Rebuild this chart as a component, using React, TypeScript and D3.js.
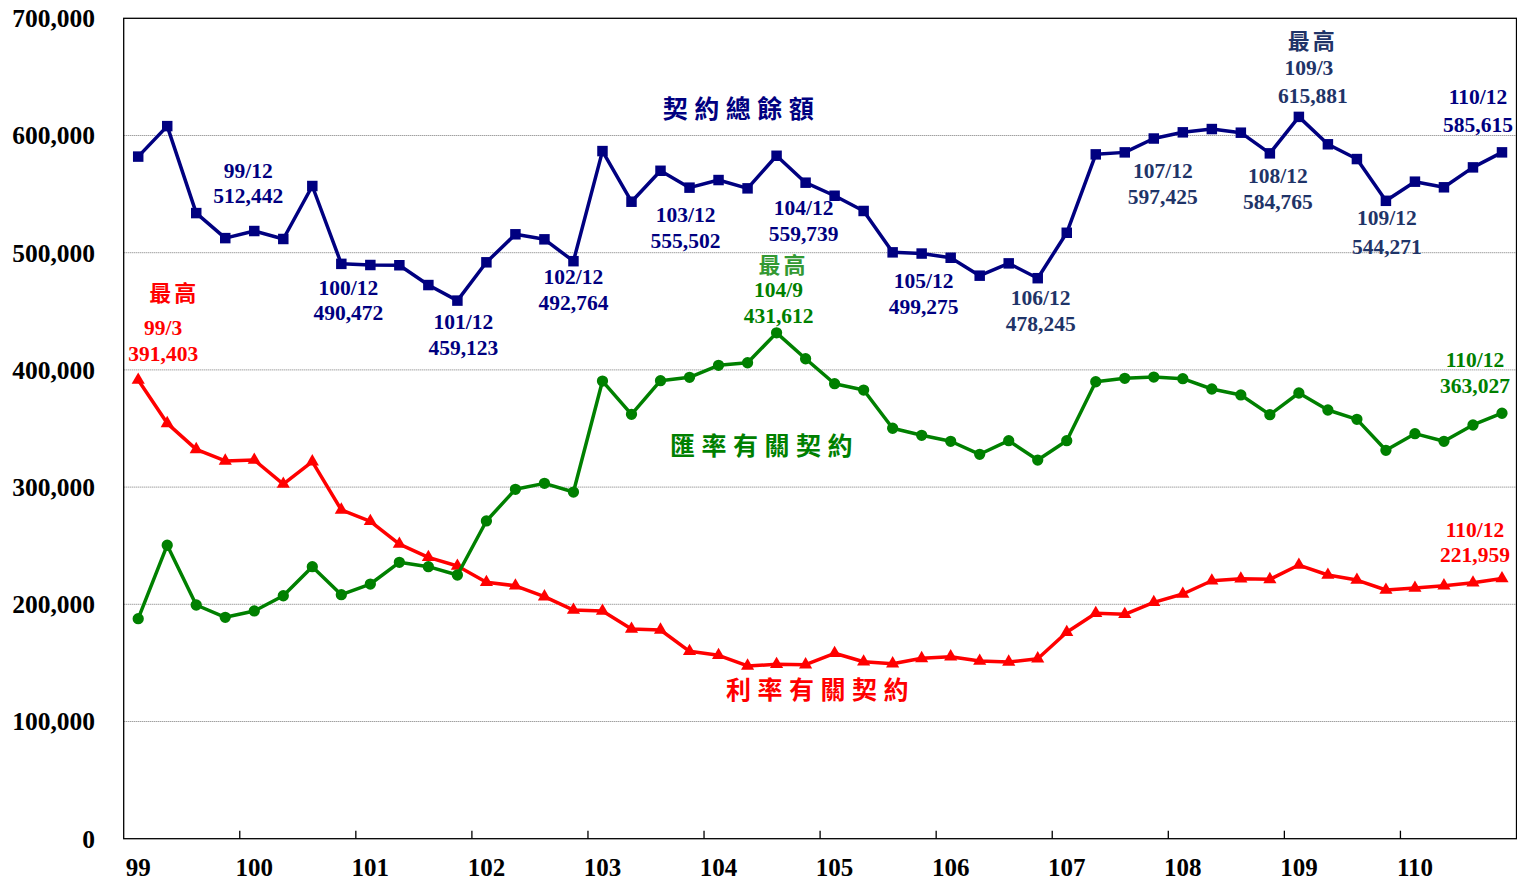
import React, { useEffect, useRef } from "react";
import * as d3 from "d3";

const years = ["99", "100", "101", "102", "103", "104", "105", "106", "107", "108", "109", "110"];
const months = ["3", "6", "9", "12"];
const quarters = years.flatMap((y) => months.map((m) => `${y}/${m}`));

// 契約總餘額
const totalValues = [
  582000, 608000, 533800, 512442, 518500, 511700, 556900, 490472,
  489500, 489300, 472400, 459123, 491800, 515700, 511400, 492764,
  586700, 543500, 569900, 555502, 562000, 554900, 582700, 559739,
  548600, 535600, 500300, 499275, 495700, 480400, 490900, 478245,
  517000, 583900, 585600, 597425, 602700, 605500, 602400, 584765,
  615881, 592500, 579900, 544271, 560600, 555800, 572800, 585615,
];

// 匯率有關契約
const fxValues = [
  187700, 250400, 199400, 188900, 194300, 207300, 232100, 208200,
  217300, 235800, 232100, 225000, 271100, 298100, 303200, 295800,
  390500, 362100, 390800, 393700, 403900, 406100, 431612, 409500,
  388200, 382800, 350200, 344200, 339100, 328000, 339600, 323100,
  339600, 389900, 392800, 393900, 392500, 383700, 378600, 361800,
  380300, 365800, 357800, 331400, 345600, 339100, 353000, 363027,
];

// 利率有關契約
const rateValues = [
  391403, 354400, 332200, 322300, 323100, 302600, 321700, 280500,
  270800, 251400, 240100, 232700, 218800, 215800, 206500, 195100,
  194300, 178900, 178100, 159900, 156500, 147400, 148800, 148500,
  158200, 151000, 149300, 153900, 155300, 151600, 150800, 153600,
  176100, 192300, 191500, 201700, 208800, 220100, 221800, 221300,
  233500, 225000, 220700, 212200, 213900, 215900, 218400, 221959,
];

const yTicks = [0, 100000, 200000, 300000, 400000, 500000, 600000, 700000];

const NAVY = "#000080";
const NAVY2 = "#1f3468";
const GREEN = "#008000";
const GREEN2 = "#339933";
const RED = "#ff0000";

// label callouts: [series, category, color, [text, dx, dy][]]; "@" = category, "#" = value
const callouts = [
  ["rate", "99/3", RED, [["最高", 36, -87], ["@", 25, -53], ["#", 25, -27]]],
  ["total", "99/12", NAVY, [["@", 23, -68], ["#", 23, -43]]],
  ["total", "100/12", NAVY, [["@", 7, 24], ["#", 7, 49]]],
  ["total", "101/12", NAVY, [["@", 6, 21], ["#", 6, 47]]],
  ["total", "102/12", NAVY, [["@", 0, 15], ["#", 0, 41]]],
  ["total", "103/12", NAVY, [["@", -4, 27], ["#", -4, 53]]],
  ["total", "104/12", NAVY, [["@", -2, 25], ["#", -2, 51]]],
  ["fx", "104/9", GREEN, [["最高", 7, -68], ["@", 2, -43], ["#", 2, -17]]],
  ["total", "105/12", NAVY, [["@", 2, 27], ["#", 2, 53]]],
  ["total", "106/12", NAVY2, [["@", 3, 19], ["#", 3, 45]]],
  ["total", "107/12", NAVY2, [["@", 9, 32], ["#", 9, 58]]],
  ["total", "108/12", NAVY2, [["@", 8, 22], ["#", 8, 48]]],
  ["total", "109/3", NAVY2, [["最高", 14, -76], ["@", 10, -49], ["#", 14, -21]]],
  ["total", "109/12", NAVY2, [["@", 1, 17], ["#", 1, 46]]],
  ["total", "110/12", NAVY, [["@", -24, -56], ["#", -24, -28]]],
  ["fx", "110/12", GREEN, [["@", -27, -54], ["#", -27, -28]]],
  ["rate", "110/12", RED, [["@", -27, -49], ["#", -27, -24]]],
];

// series titles: [text, category, value, color, dx]
const titles = [
  ["契約總餘額", "104/3", 622000, NAVY, 23],
  ["匯率有關契約", "104/6", 335000, GREEN, 17],
  ["利率有關契約", "105/3", 127000, RED, -14],
];

export default function App() {
  const svgRef = useRef(null);

  useEffect(() => {
    const width = 1517;
    const height = 882;
    const left = 123.7;
    const right = 1516.5;
    const top = 18.3;
    const bottom = 838.7;

    const svg = d3.select(svgRef.current);
    svg.selectAll("*").remove();
    svg.attr("width", width).attr("height", height);

    const x = d3.scaleBand().domain(quarters).range([left, right]).padding(0);
    const bw = x.bandwidth();
    const cx = (q) => x(q) + bw / 2;
    const y = d3.scaleLinear().domain([0, 700000]).range([bottom, top]);

    const num = "'Liberation Serif', 'Times New Roman', serif";
    const cjk = "'Noto Sans CJK TC', 'Noto Sans CJK SC', sans-serif";

    // grid lines
    svg
      .append("g")
      .selectAll("line")
      .data(yTicks.slice(1, -1))
      .join("line")
      .attr("x1", left)
      .attr("x2", right)
      .attr("y1", (d) => y(d))
      .attr("y2", (d) => y(d))
      .attr("stroke", "#777")
      .attr("stroke-width", 1)
      .attr("stroke-dasharray", "1,1");

    // plot frame
    svg
      .append("rect")
      .attr("x", left)
      .attr("y", top)
      .attr("width", right - left)
      .attr("height", bottom - top)
      .attr("fill", "none")
      .attr("stroke", "#000")
      .attr("stroke-width", 1.3);

    // y labels
    svg
      .append("g")
      .selectAll("text")
      .data(yTicks)
      .join("text")
      .attr("x", 95)
      .attr("y", (d) => y(d))
      .attr("dy", "0.35em")
      .attr("text-anchor", "end")
      .style("font", `bold 25.5px ${num}`)
      .attr("fill", "#000")
      .text((d) => d3.format(",")(d));

    // x ticks at year boundaries
    svg
      .append("g")
      .selectAll("line")
      .data(years.slice(1))
      .join("line")
      .attr("x1", (d) => x(`${d}/3`))
      .attr("x2", (d) => x(`${d}/3`))
      .attr("y1", bottom)
      .attr("y2", bottom - 8)
      .attr("stroke", "#000")
      .attr("stroke-width", 1.3);

    svg
      .append("g")
      .selectAll("text")
      .data(years)
      .join("text")
      .attr("x", (d) => cx(`${d}/3`))
      .attr("y", 867)
      .attr("dy", "0.35em")
      .attr("text-anchor", "middle")
      .style("font", `bold 25px ${num}`)
      .attr("fill", "#000")
      .text((d) => d);

    const series = {
      total: { values: totalValues, color: NAVY, shape: d3.symbolSquare, size: 110 },
      fx: { values: fxValues, color: GREEN, shape: d3.symbolCircle, size: 100 },
      rate: { values: rateValues, color: RED, shape: d3.symbolTriangle, size: 75 },
    };

    const line = d3
      .line()
      .x((d, i) => cx(quarters[i]))
      .y((d) => y(d));

    ["rate", "fx", "total"].forEach((key) => {
      const s = series[key];
      svg
        .append("path")
        .attr("d", line(s.values))
        .attr("fill", "none")
        .attr("stroke", s.color)
        .attr("stroke-width", 3.5)
        .attr("stroke-linejoin", "round");
      svg
        .append("g")
        .selectAll("path")
        .data(s.values)
        .join("path")
        .attr("d", d3.symbol().type(s.shape).size(s.size))
        .attr("transform", (d, i) => `translate(${cx(quarters[i])},${y(d)})`)
        .attr("fill", s.color);
    });

    // series titles
    titles.forEach(([text, cat, val, color, dx]) => {
      svg
        .append("text")
        .attr("x", cx(cat) + dx)
        .attr("y", y(val))
        .attr("dy", "0.35em")
        .attr("text-anchor", "middle")
        .attr("letter-spacing", 6.5)
        .style("font", `bold 25px ${cjk}`)
        .attr("fill", color)
        .text(text);
    });

    // value callouts
    callouts.forEach(([key, cat, color, lines]) => {
      const i = quarters.indexOf(cat);
      const v = series[key].values[i];
      const px = cx(cat);
      const py = y(v);
      lines.forEach(([t, dx, dy]) => {
        const isCjk = t === "最高";
        const label = t === "#" ? d3.format(",")(v) : t === "@" ? cat : t;
        svg
          .append("text")
          .attr("x", px + dx)
          .attr("y", py + dy)
          .attr("dy", "0.35em")
          .attr("text-anchor", "middle")
          .attr("letter-spacing", isCjk ? 3 : 0)
          .style("font", isCjk ? `bold 22px ${cjk}` : `bold 21.5px ${num}`)
          .attr("fill", isCjk && color === GREEN ? GREEN2 : color)
          .text(label);
      });
    });
  }, []);

  return (
    <div style={{ position: "absolute", left: 0, top: 0 }}>
      <svg ref={svgRef} style={{ display: "block", background: "#fff" }} />
    </div>
  );
}
